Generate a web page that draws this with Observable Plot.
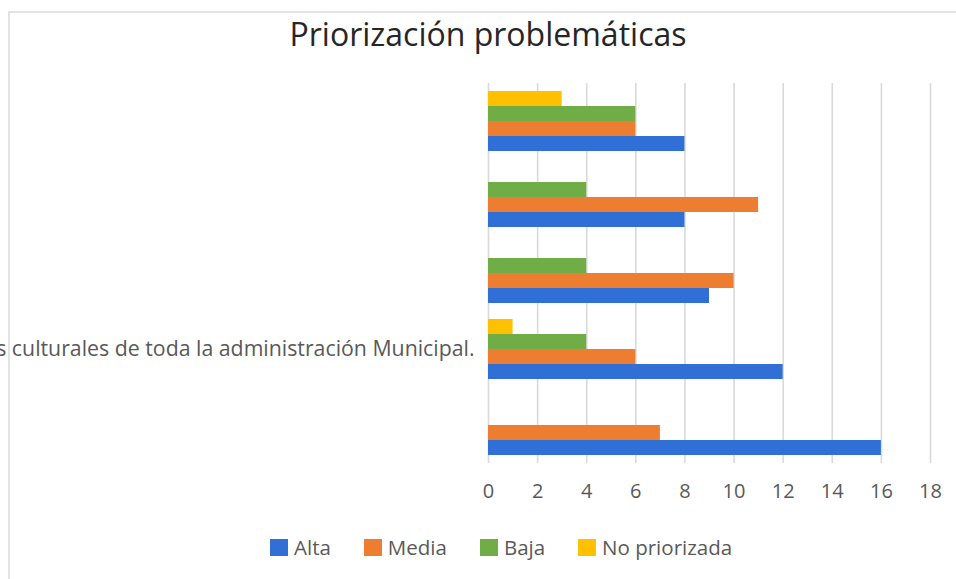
<!DOCTYPE html>
<html>
<head>
<meta charset="utf-8">
<script src="https://cdn.jsdelivr.net/npm/d3@7"></script>
<script src="https://cdn.jsdelivr.net/npm/@observablehq/plot@0.6"></script>
<style>
  html, body { margin: 0; padding: 0; background: #fff; }
  #wrap { position: relative; width: 956px; height: 579px; overflow: hidden; background: #fff; font-family: "Open Sans", sans-serif; }
  #frame { position: absolute; left: 8px; top: 11px; width: 960px; height: 580px; border-left: 2px solid #e3e3e3; border-top: 2px solid #e3e3e3; }
  #title { position: absolute; left: 20px; width: 936px; top: 18px; text-align: center; font-size: 32px; line-height: 32px; color: #262626; white-space: nowrap; }
  #chart { position: absolute; left: 0; top: 0; }
  #chart g[aria-label="fy-axis tick label"] { font-size: 21.3px; }
  #legend { position: absolute; left: 270px; top: 535px; display: flex; align-items: center; font-size: 20.5px; line-height: 24px; color: #595959; }
  #legend .item { display: flex; align-items: center; margin-right: 33px; }
  #legend .sw { width: 18px; height: 17px; margin-right: 6px; }
</style>
</head>
<body>
<div id="wrap">
  <div id="frame"></div>
  <div id="title"></div>
  <div id="chart"></div>
  <div id="legend"></div>
</div>
<script>
const title = "Priorización problemáticas";
const categories = ["P1", "P2", "P3", "P4", "P5"];
const categoryLabels = ["", "", "", "Desarticulación de los procesos culturales de toda la administración Municipal.", ""];
const series = ["Alta", "Media", "Baja", "No priorizada"];
const colors = ["#3070d6", "#ed7d31", "#70ad47", "#ffc000"];
const alta = [8, 8, 9, 12, 16];
const media = [6, 11, 10, 6, 7];
const baja = [6, 4, 4, 4, 0];
const noPriorizada = [3, 0, 0, 1, 0];
const xTicks = [0, 2, 4, 6, 8, 10, 12, 14, 16, 18];

const valuesBySeries = {"Alta": alta, "Media": media, "Baja": baja, "No priorizada": noPriorizada};
const rows = categories.flatMap((c, i) => series.map(s => ({category: c, series: s, value: valuesBySeries[s][i]})));
const labelOf = new Map(categories.map((c, i) => [c, categoryLabels[i]]));

document.getElementById("title").textContent = title;

const chart = Plot.plot({
  width: 956,
  height: 510,
  marginTop: 83,
  marginBottom: 47,
  marginLeft: 488,
  marginRight: 26,
  style: {fontFamily: "Open Sans", fontSize: "20px", color: "#595959", background: "transparent", overflow: "visible"},
  x: {domain: [0, 18], ticks: xTicks, tickSize: 0, tickPadding: 20, label: null},
  y: {domain: [...series].reverse(), axis: null, paddingInner: 0, paddingOuter: 0.533},
  fy: {domain: categories, padding: 0, axis: "left", tickSize: 0, tickPadding: 14, label: null, tickFormat: d => labelOf.get(d)},
  color: {domain: series, range: colors},
  marks: [
    Plot.gridX(xTicks, {stroke: "#d9d9d9", strokeOpacity: 1, strokeWidth: 1.6}),
    Plot.barX(rows.filter(d => d.value > 0), {x: "value", y: "series", fy: "category", fill: "series"})
  ]
});
document.getElementById("chart").appendChild(chart);

const legend = document.getElementById("legend");
series.forEach((s, i) => {
  const item = document.createElement("div");
  item.className = "item";
  const sw = document.createElement("div");
  sw.className = "sw";
  sw.style.background = colors[i];
  const t = document.createElement("span");
  t.textContent = s;
  item.appendChild(sw);
  item.appendChild(t);
  legend.appendChild(item);
});
</script>
</body>
</html>
